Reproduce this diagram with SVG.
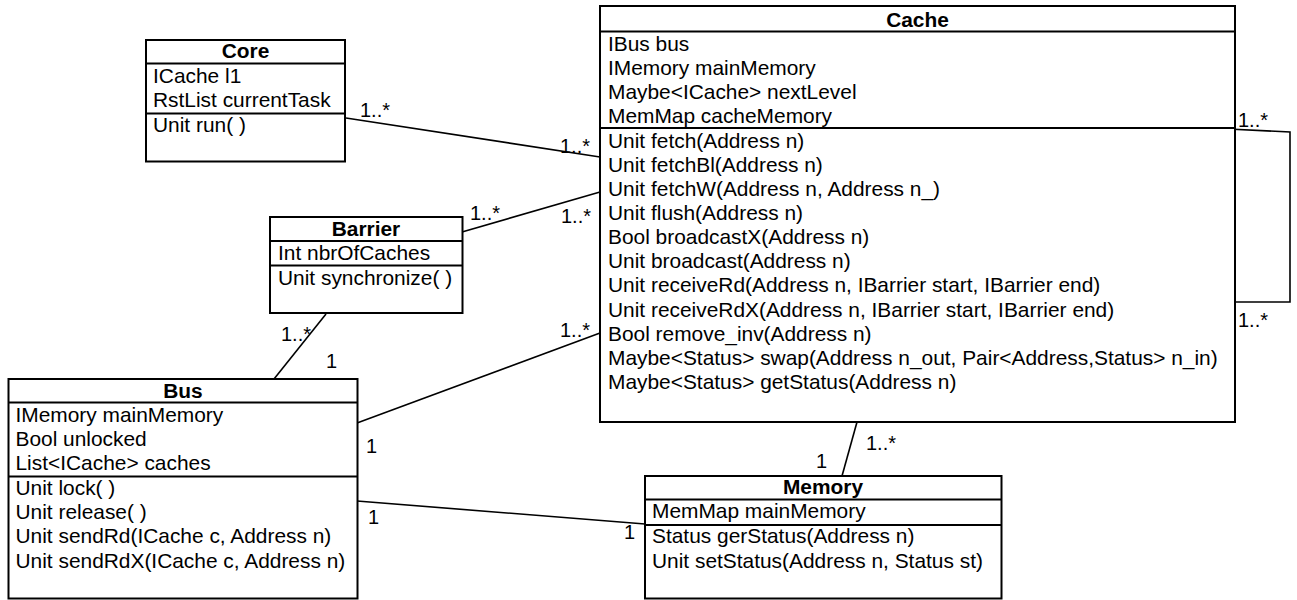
<svg xmlns="http://www.w3.org/2000/svg" width="1297" height="600" viewBox="0 0 1297 600">
<style>
.box{fill:#fff;stroke:#000;stroke-width:2}
.sep{stroke:#000;stroke-width:2;fill:none}
.conn{stroke:#000;stroke-width:1.6;fill:none}
text{font-family:"Liberation Sans",Arial,Helvetica,sans-serif;font-size:20.9px;fill:#000}
.title{font-weight:bold;text-anchor:middle}
.lbl{font-size:20px}
</style>
<rect width="1297" height="600" fill="#fff"/>
<g id="connectors">
<line class="conn" x1="346" y1="118" x2="600" y2="157"/>
<line class="conn" x1="462" y1="232" x2="600" y2="192"/>
<line class="conn" x1="274" y1="379" x2="326" y2="314"/>
<line class="conn" x1="357" y1="423" x2="600" y2="333"/>
<line class="conn" x1="357" y1="501" x2="645" y2="524"/>
<line class="conn" x1="857" y1="422" x2="842" y2="476"/>
<polyline class="conn" points="1228,129 1290,132 1290,302 1235,302"/>
<text class="lbl" x="360" y="117">1..*</text>
<text class="lbl" x="560" y="153">1..*</text>
<text class="lbl" x="470" y="220">1..*</text>
<text class="lbl" x="561" y="223">1..*</text>
<text class="lbl" x="281" y="341">1..*</text>
<text class="lbl" x="326" y="368">1</text>
<text class="lbl" x="560" y="337">1..*</text>
<text class="lbl" x="366" y="453">1</text>
<text class="lbl" x="368" y="524">1</text>
<text class="lbl" x="624" y="539">1</text>
<text class="lbl" x="866" y="450">1..*</text>
<text class="lbl" x="816" y="468">1</text>
<text class="lbl" x="1238" y="127">1..*</text>
<text class="lbl" x="1238" y="327">1..*</text>
</g>
<g id="core">
<rect class="box" x="146" y="40" width="199" height="121.5"/>
<line class="sep" x1="146" y1="63.5" x2="345" y2="63.5"/>
<line class="sep" x1="146" y1="113.5" x2="345" y2="113.5"/>
<text class="title" x="245.5" y="58">Core</text>
<text x="153" y="83">ICache l1</text>
<text x="153" y="107">RstList currentTask</text>
<text x="153" y="132">Unit run( )</text>
</g>
<g id="barrier">
<rect class="box" x="270" y="217" width="192.5" height="96"/>
<line class="sep" x1="270" y1="241" x2="462.5" y2="241"/>
<line class="sep" x1="270" y1="265.5" x2="462.5" y2="265.5"/>
<text class="title" x="366" y="236">Barrier</text>
<text x="278" y="260">Int nbrOfCaches</text>
<text x="278" y="285">Unit synchronize( )</text>
</g>
<g id="cache">
<rect class="box" x="600" y="6" width="635" height="416"/>
<line class="sep" x1="600" y1="31.5" x2="1235" y2="31.5"/>
<line class="sep" x1="600" y1="128" x2="1235" y2="128"/>
<text class="title" x="917.5" y="27">Cache</text>
<text x="608" y="50.5">IBus bus</text>
<text x="608" y="74.5">IMemory mainMemory</text>
<text x="608" y="98.5">Maybe&lt;ICache&gt; nextLevel</text>
<text x="608" y="122.5">MemMap cacheMemory</text>
<text x="608" y="147.5">Unit fetch(Address n)</text>
<text x="608" y="171.7">Unit fetchBl(Address n)</text>
<text x="608" y="195.8">Unit fetchW(Address n, Address n_)</text>
<text x="608" y="220">Unit flush(Address n)</text>
<text x="608" y="244.1">Bool broadcastX(Address n)</text>
<text x="608" y="268.3">Unit broadcast(Address n)</text>
<text x="608" y="292.4">Unit receiveRd(Address n, IBarrier start, IBarrier end)</text>
<text x="608" y="316.6">Unit receiveRdX(Address n, IBarrier start, IBarrier end)</text>
<text x="608" y="340.7">Bool remove_inv(Address n)</text>
<text x="608" y="364.8">Maybe&lt;Status&gt; swap(Address n_out, Pair&lt;Address,Status&gt; n_in)</text>
<text x="608" y="389">Maybe&lt;Status&gt; getStatus(Address n)</text>
</g>
<g id="bus">
<rect class="box" x="8.5" y="379" width="349" height="219.5"/>
<line class="sep" x1="8.5" y1="402.5" x2="357.5" y2="402.5"/>
<line class="sep" x1="8.5" y1="476.5" x2="357.5" y2="476.5"/>
<text class="title" x="183" y="397.5">Bus</text>
<text x="15.5" y="421.5">IMemory mainMemory</text>
<text x="15.5" y="445.7">Bool unlocked</text>
<text x="15.5" y="470">List&lt;ICache&gt; caches</text>
<text x="15.5" y="495">Unit lock( )</text>
<text x="15.5" y="519.2">Unit release( )</text>
<text x="15.5" y="543.3">Unit sendRd(ICache c, Address n)</text>
<text x="15.5" y="567.5">Unit sendRdX(ICache c, Address n)</text>
</g>
<g id="memory">
<rect class="box" x="645" y="476" width="356.5" height="122.5"/>
<line class="sep" x1="645" y1="499.5" x2="1001.5" y2="499.5"/>
<line class="sep" x1="645" y1="525" x2="1001.5" y2="525"/>
<text class="title" x="823" y="494">Memory</text>
<text x="652" y="518.3">MemMap mainMemory</text>
<text x="652" y="543.3">Status gerStatus(Address n)</text>
<text x="652" y="567.5">Unit setStatus(Address n, Status st)</text>
</g>
</svg>
